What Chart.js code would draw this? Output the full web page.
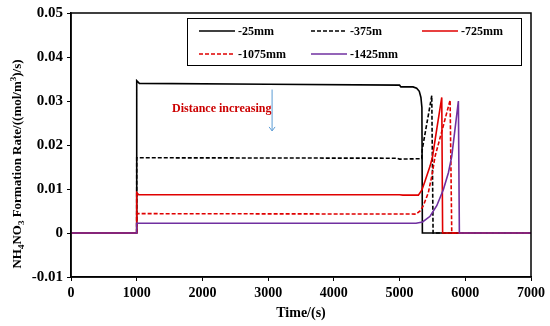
<!DOCTYPE html>
<html>
<head>
<meta charset="utf-8">
<script src="https://cdn.jsdelivr.net/npm/chart.js@4.4.0/dist/chart.umd.min.js"></script>
<style>
  html, body { margin: 0; padding: 0; background: #fff; }
  #wrap { width: 550px; height: 326px; }
</style>
</head>
<body>
<div id="wrap"><canvas id="chart" width="550" height="326"></canvas></div>
<script>
// series names (legend)
const seriesNames = ['-25mm', '-375m', '-725mm', '-1075mm', '-1425mm'];

// time (s) / rate ((mol/m3)/s)
const t25 = [0, 1000, 1000, 1040, 3000, 5000, 5020, 5205, 5260, 5300, 5325, 5340, 5347, 7000];
const r25 = [0, 0, 0.0346, 0.0340, 0.0338, 0.0336, 0.0332, 0.0332, 0.0329, 0.0322, 0.0308, 0.0285, 0, 0];

const t375 = [0, 1000, 1000, 4950, 5000, 5050, 5338, 5345, 5420, 5490, 5510, 7000];
const r375 = [0, 0, 0.0171, 0.0170, 0.0168, 0.0168, 0.0169, 0.0190, 0.0253, 0.0312, 0, 0];

const t725 = [0, 1000, 1000, 1030, 5000, 5050, 5286, 5340, 5388, 5464, 5500, 5570, 5642, 5655, 7000];
const r725 = [0, 0, 0.0092, 0.0087, 0.0087, 0.0086, 0.0086, 0.0098, 0.0118, 0.0152, 0.0172, 0.0240, 0.0308, 0, 0];

const t1075 = [0, 1000, 1000, 5250, 5312, 5362, 5438, 5490, 5540, 5650, 5769, 5794, 7000];
const r1075 = [0, 0, 0.0044, 0.0043, 0.0050, 0.0062, 0.0092, 0.0129, 0.0174, 0.0235, 0.0302, 0, 0];

const t1425 = [0, 1000, 1000, 5250, 5350, 5464, 5566, 5667, 5743, 5794, 5895, 5910, 7000];
const r1425 = [0, 0, 0.0022, 0.0022, 0.0025, 0.0038, 0.0062, 0.0099, 0.0137, 0.0174, 0.0300, 0, 0];

const SERIF = "'Liberation Serif', 'Times New Roman', serif";
const RED = '#e00000';
const PURPLE = '#7030a0';

function pts(ts, rs) {
    return ts.map((t, i) => ({ x: t, y: rs[i] }));
}

const seriesStyles = [
    { color: '#000000', dash: [] },
    { color: '#000000', dash: [4, 2] },
    { color: RED, dash: [] },
    { color: RED, dash: [4, 2] },
    { color: PURPLE, dash: [] },
];
const seriesData = [pts(t25, r25), pts(t375, r375), pts(t725, r725), pts(t1075, r1075), pts(t1425, r1425)];

// purple on top, black at the bottom
const datasets = seriesData.map((d, i) => ({
    label: seriesNames[i],
    data: d,
    borderColor: seriesStyles[i].color,
    borderDash: seriesStyles[i].dash,
    borderWidth: 1.6,
    pointRadius: 0,
    tension: 0,
    fill: false,
    order: 4 - i,
}));

// frame, legend box, annotation, y title
const decorPlugin = {
    id: 'decor',
    afterDraw(chart) {
        const ctx = chart.ctx;
        const a = chart.chartArea;
        const xs = chart.scales.x, ys = chart.scales.y;
        ctx.save();

        // full frame
        ctx.strokeStyle = '#000';
        ctx.lineWidth = 1.5;
        ctx.strokeRect(a.left, a.top, a.right - a.left, a.bottom - a.top);

        // legend box
        ctx.fillStyle = '#fff';
        ctx.fillRect(187, 18, 335, 48);
        ctx.lineWidth = 1;
        ctx.strokeRect(187.5, 18.5, 334, 47);
        const cols = [199, 311, 422];
        const rows = [31, 54];
        ctx.font = 'bold 12px ' + SERIF;
        ctx.textBaseline = 'middle';
        ctx.textAlign = 'left';
        seriesNames.forEach((name, i) => {
            const cx = cols[i < 3 ? i : i - 3];
            const cy = rows[i < 3 ? 0 : 1];
            ctx.beginPath();
            ctx.setLineDash(seriesStyles[i].dash);
            ctx.strokeStyle = seriesStyles[i].color;
            ctx.lineWidth = 1.6;
            ctx.moveTo(cx, cy);
            ctx.lineTo(cx + 36, cy);
            ctx.stroke();
            ctx.setLineDash([]);
            ctx.fillStyle = '#000';
            ctx.fillText(name, cx + 39, cy + 1);
        });

        // "Distance increasing" + arrow
        ctx.fillStyle = '#cc0000';
        ctx.font = 'bold 12px ' + SERIF;
        ctx.fillText('Distance increasing', 172, 109);
        const ax = xs.getPixelForValue(3060);
        const ay0 = ys.getPixelForValue(0.0326);
        const ay1 = ys.getPixelForValue(0.0232);
        ctx.strokeStyle = '#5b9bd5';
        ctx.lineWidth = 1;
        ctx.beginPath();
        ctx.moveTo(ax, ay0);
        ctx.lineTo(ax, ay1);
        ctx.moveTo(ax - 3, ay1 - 4);
        ctx.lineTo(ax, ay1);
        ctx.lineTo(ax + 3, ay1 - 4);
        ctx.stroke();

        // y axis title with sub/superscripts
        const parts = [['NH', 0], ['4', 1], ['NO', 0], ['3', 1], [' Formation Rate/((mol/m', 0], ['3', -1], [')/s)', 0]];
        const big = 'bold 13px ' + SERIF, small = 'bold 9px ' + SERIF;
        let total = 0;
        parts.forEach(p => { ctx.font = p[1] ? small : big; total += ctx.measureText(p[0]).width; });
        ctx.translate(18, 164);
        ctx.rotate(-Math.PI / 2);
        ctx.fillStyle = '#000';
        ctx.textBaseline = 'middle';
        let x = -total / 2;
        parts.forEach(p => {
            ctx.font = p[1] ? small : big;
            ctx.fillText(p[0], x, p[1] === 1 ? 4 : (p[1] === -1 ? -4 : 0));
            x += ctx.measureText(p[0]).width;
        });
        ctx.restore();
    }
};

new Chart(document.getElementById('chart').getContext('2d'), {
    type: 'line',
    data: { datasets: datasets },
    options: {
        responsive: false,
        animation: false,
        layout: { padding: { left: 0, right: 19, top: 11, bottom: 0 } },
        plugins: { legend: { display: false }, tooltip: { enabled: false } },
        scales: {
            x: {
                type: 'linear',
                min: 0, max: 7000,
                afterFit(s) { s.height = 49; },
                ticks: {
                    stepSize: 1000,
                    color: '#000',
                    font: { family: SERIF, size: 14, weight: 'bold' },
                    padding: 4,
                    maxRotation: 0,
                    callback: v => String(v),
                },
                grid: { drawOnChartArea: false, drawTicks: true, tickLength: 4, color: '#000', lineWidth: 1 },
                border: { color: '#000', width: 1.5 },
                title: {
                    display: true,
                    text: 'Time/(s)',
                    color: '#000',
                    font: { family: SERIF, size: 14, weight: 'bold' },
                    padding: { top: 0, bottom: 4 },
                },
            },
            y: {
                min: -0.01, max: 0.05,
                afterFit(s) { s.width = 71; },
                ticks: {
                    stepSize: 0.01,
                    color: '#000',
                    font: { family: SERIF, size: 15, weight: 'bold' },
                    padding: 4,
                    callback: v => String(+v.toFixed(2)),
                },
                grid: { drawOnChartArea: false, drawTicks: true, tickLength: 4, color: '#000', lineWidth: 1 },
                border: { color: '#000', width: 1.5 },
            },
        },
    },
    plugins: [decorPlugin],
});
</script>
</body>
</html>
